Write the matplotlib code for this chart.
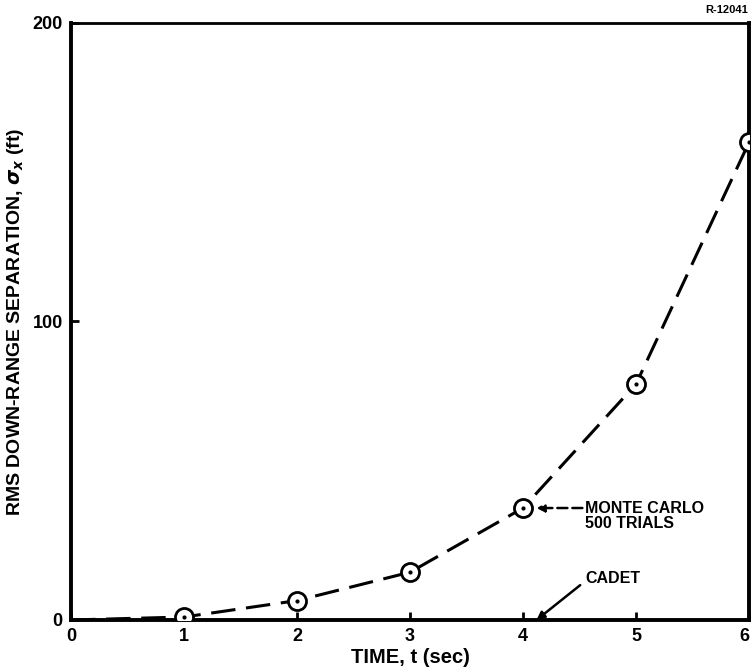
import matplotlib
matplotlib.use("Agg")
import matplotlib.pyplot as plt

# 데이터
time_s = [0, 1, 2, 3, 4, 5, 6]
rms_sep = [0, 1, 6.5, 16, 37.5, 79, 160]
x_ticks = [0, 1, 2, 3, 4, 5, 6]
y_ticks = [0, 100, 200]

plt.rcParams["font.family"] = ["Liberation Sans", "DejaVu Sans"]
plt.rcParams["font.weight"] = "bold"
plt.rcParams["mathtext.fontset"] = "dejavusans"

fig = plt.figure(figsize=(7.52, 6.72), dpi=100)
ax = fig.add_axes([0.0944, 0.0774, 0.9016, 0.8884])

ax.plot(time_s, rms_sep, color="black", linewidth=2.2,
        linestyle=(0, (8, 3.5)), zorder=2)
ax.plot(time_s[1:], rms_sep[1:], linestyle="none", marker="o",
        markersize=13, markerfacecolor="white", markeredgecolor="black",
        markeredgewidth=2, zorder=3)
ax.plot(time_s[1:], rms_sep[1:], linestyle="none", marker=".",
        markersize=4, color="black", zorder=4)

ax.set_xlim(0, 6)
ax.set_ylim(0, 200)
ax.set_xticks(x_ticks)
ax.set_yticks(y_ticks)
ax.tick_params(direction="in", length=6, width=2, labelsize=13, pad=6)
ax.get_xticklabels()[-1].set_horizontalalignment("right")

for side in ["left", "bottom", "right"]:
    ax.spines[side].set_linewidth(2.8)
ax.spines["top"].set_linewidth(2)

ax.set_xlabel("TIME, t (sec)", fontsize=14.5, fontweight="bold", labelpad=2)
ax.set_ylabel(r"RMS DOWN-RANGE SEPARATION, $\sigma_x$ (ft)",
              fontsize=14, fontweight="bold", va="center")
ax.yaxis.set_label_coords(-0.082, 0.5)

ax.annotate("MONTE CARLO\n500 TRIALS", xy=(4.02, 37.5), xytext=(4.55, 35),
            fontsize=11.5, fontweight="bold", va="center", ha="left",
            linespacing=1.0,
            arrowprops=dict(arrowstyle="-|>", color="black", lw=1.8,
                            linestyle=(0, (4, 2)), shrinkA=0, shrinkB=8,
                            relpos=(0, 0.75)))
ax.annotate("CADET", xy=(4.12, 0), xytext=(4.55, 14),
            fontsize=11.5, fontweight="bold", va="center", ha="left",
            arrowprops=dict(arrowstyle="-|>", color="black", lw=1.8,
                            shrinkA=2, shrinkB=0, relpos=(0, 0.3)))

fig.text(0.995, 0.978, "R-12041", fontsize=8, fontweight="bold",
         ha="right", va="bottom")

fig.savefig("out.png", dpi=100)
